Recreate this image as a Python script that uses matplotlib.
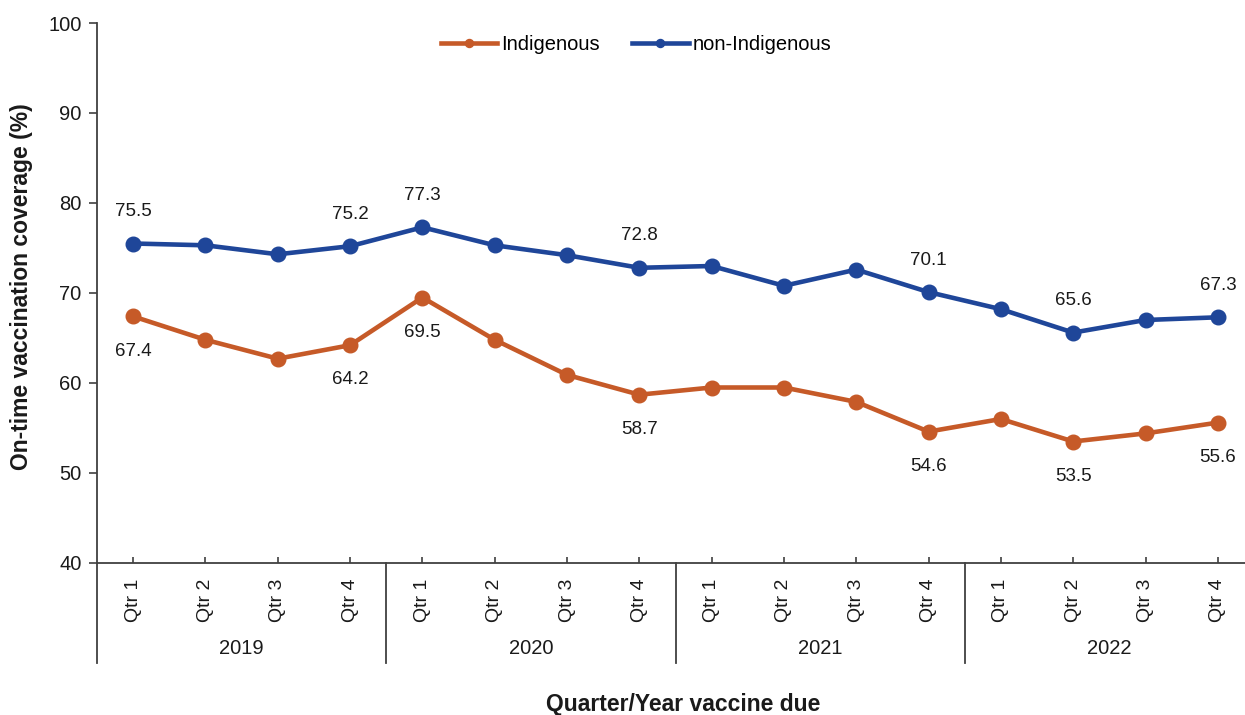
import matplotlib.pyplot as plt
from matplotlib.transforms import blended_transform_factory

plt.rcParams["font.family"] = ["Liberation Sans", "DejaVu Sans"]

ORANGE = "#C65A28"
BLUE = "#1F4699"
AXIS = "#404040"
TEXT = "#1a1a1a"

quarters = ["Qtr 1", "Qtr 2", "Qtr 3", "Qtr 4"]
years = ["2019", "2020", "2021", "2022"]
indigenous = [67.4, 64.8, 62.7, 64.2, 69.5, 64.8, 60.9, 58.7,
              59.5, 59.5, 57.9, 54.6, 56.0, 53.5, 54.4, 55.6]
non_indigenous = [75.5, 75.3, 74.3, 75.2, 77.3, 75.3, 74.2, 72.8,
                  73.0, 70.8, 72.6, 70.1, 68.2, 65.6, 67.0, 67.3]
labelled = [0, 3, 4, 7, 11, 13, 15]

x = list(range(len(indigenous)))
tick_labels = [q for _ in years for q in quarters]

W, H = 1245, 715
fig = plt.figure(figsize=(W / 100, H / 100), dpi=100)
ax = fig.add_axes([97 / W, 1 - 563 / H, (1254 - 97) / W, (563 - 23) / H])

ax.plot(x, indigenous, color=ORANGE, lw=3.3, marker="o", ms=10.5, label="Indigenous", zorder=3)
ax.plot(x, non_indigenous, color=BLUE, lw=3.3, marker="o", ms=10.5, label="non-Indigenous", zorder=3)

for i in labelled:
    ax.annotate(f"{non_indigenous[i]:.1f}", (x[i], non_indigenous[i]), xytext=(0, 23),
                textcoords="offset points", ha="center", va="center", fontsize=13.5, color=TEXT)
    ax.annotate(f"{indigenous[i]:.1f}", (x[i], indigenous[i]), xytext=(0, -25),
                textcoords="offset points", ha="center", va="center", fontsize=13.5, color=TEXT)

ax.set_xlim(-0.5, len(x) - 0.5)
ax.set_ylim(40, 100)
ax.set_yticks(range(40, 101, 10))
ax.tick_params(axis="y", direction="out", length=6, width=1.2, color=AXIS, labelsize=14.5, pad=5, labelcolor=TEXT)
ax.set_xticks(x)
ax.set_xticklabels(tick_labels, rotation=90, fontsize=14, color=TEXT)
ax.tick_params(axis="x", direction="in", length=4, width=1.2, color=AXIS, pad=11)

for side in ["top", "right"]:
    ax.spines[side].set_visible(False)
for side in ["left", "bottom"]:
    ax.spines[side].set_color(AXIS)
    ax.spines[side].set_linewidth(1.3)

trans = blended_transform_factory(ax.transData, ax.transAxes)
for k in range(len(years) + 1):
    xd = k * len(quarters) - 0.5
    ax.plot([xd, xd], [0, -0.185], transform=trans, color=AXIS, lw=1.3, clip_on=False)
for k, yr in enumerate(years):
    xc = k * len(quarters) + (len(quarters) - 1) / 2
    ax.text(xc, -0.159, yr, transform=trans, ha="center", va="center", fontsize=14.5, color=TEXT)

fig.text(22 / W, 1 - 287 / H, "On-time vaccination coverage (%)", rotation=90, ha="center", va="center",
         fontsize=16.5, fontweight="bold", color=TEXT)
fig.text(683 / W, 1 - 705 / H, "Quarter/Year vaccine due", ha="center", va="center",
         fontsize=16.5, fontweight="bold", color=TEXT)

ax.legend(loc="center", bbox_to_anchor=(0.466, 0.961), ncol=2, frameon=False, fontsize=14.5,
          handlelength=2.8, markerscale=0.55, columnspacing=1.6, handletextpad=0.2)

fig.savefig("out.png", dpi=100, facecolor="white")
